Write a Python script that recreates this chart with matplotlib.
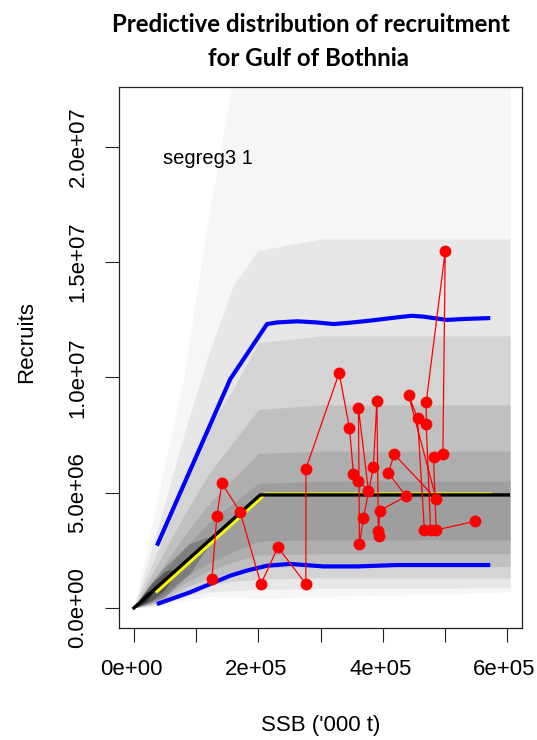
import matplotlib
matplotlib.use("Agg")
import matplotlib.pyplot as plt
from matplotlib.transforms import ScaledTranslation

plt.rcParams['font.family'] = ['Liberation Sans', 'DejaVu Sans']

# observed stock-recruit pairs, in time order (SSB in '000 t, recruits in millions)
obs_ssb = [125.4, 133.4, 141.5, 170.9, 204.2, 231.5, 276.5, 276.5, 330.0, 346.6,
           353.0, 361.0, 377.0, 361.0, 362.7, 369.0, 385.0, 390.7, 393.0, 393.5,
           395.0, 437.8, 409.0, 418.5, 486.0, 441.5, 456.0, 467.0, 477.0, 470.0,
           470.0, 500.5, 496.8, 481.7, 486.0, 548.7]
obs_rec = [1.26, 4.00, 5.40, 4.15, 1.04, 2.63, 1.04, 6.03, 10.19, 7.79,
           5.81, 5.52, 5.09, 8.67, 2.78, 3.89, 6.10, 8.99, 3.35, 3.12,
           4.22, 4.84, 5.85, 6.66, 4.73, 9.24, 8.22, 3.40, 3.36, 7.98,
           8.92, 15.46, 6.68, 6.53, 3.38, 3.76]

# fitted segmented regression (black) and predictive median (yellow)
fit_ssb = [0, 203, 602]
fit_rec = [0, 4.90, 4.90]
med_ssb = [37, 211, 573]
med_rec = [0.72, 4.94, 4.94]

# predictive 5% / 95% lines (blue)
upper_ssb = [37, 155, 214, 230, 262, 294, 321, 348, 380, 423, 447, 466, 503, 530, 573]
upper_rec = [2.70, 9.93, 12.31, 12.38, 12.43, 12.38, 12.31, 12.37, 12.46, 12.60,
             12.67, 12.63, 12.49, 12.53, 12.57]
lower_ssb = [37, 90.5, 122.7, 155, 181.7, 214, 251, 305, 358.5, 423, 466, 573]
lower_rec = [0.17, 0.68, 1.04, 1.40, 1.62, 1.83, 1.91, 1.80, 1.80, 1.86, 1.86, 1.86]

# predictive cloud: iso-shade envelopes per SSB column (outer -> inner)
cloud_ssb = [0, 20, 40, 80, 120, 160, 200, 300, 400, 500, 605]
shade1_lo = [0, 0.03, 0.08, 0.30, 0.50, 0.50, 0.40, 0.50, 0.55, 0.60, 0.70]
shade1_hi = [0, 2.5, 5.0, 10.0, 17.0, 23.0, 23.0, 23.0, 23.0, 23.0, 23.0]
shade2_lo = [0, 0.05, 0.12, 0.45, 0.70, 0.75, 0.80, 0.85, 0.85, 0.85, 0.90]
shade2_hi = [0, 1.8, 3.6, 7.5, 11.0, 14.0, 15.5, 16.0, 16.0, 16.0, 16.0]
shade3_lo = [0, 0.08, 0.18, 0.65, 1.00, 1.15, 1.25, 1.30, 1.30, 1.30, 1.30]
shade3_hi = [0, 1.3, 2.6, 5.3, 7.8, 9.5, 11.5, 11.8, 11.8, 11.8, 11.8]
shade4_lo = [0, 0.12, 0.25, 0.85, 1.30, 1.55, 1.75, 1.80, 1.80, 1.80, 1.80]
shade4_hi = [0, 1.0, 2.0, 4.0, 5.8, 7.2, 8.6, 8.8, 8.8, 8.8, 8.8]
shade5_lo = [0, 0.16, 0.33, 1.05, 1.60, 2.00, 2.30, 2.35, 2.35, 2.35, 2.35]
shade5_hi = [0, 0.8, 1.55, 3.1, 4.5, 5.6, 6.7, 6.8, 6.8, 6.8, 6.8]
shade6_lo = [0, 0.22, 0.45, 1.30, 1.95, 2.45, 2.90, 2.95, 2.95, 2.95, 2.95]
shade6_hi = [0, 0.65, 1.25, 2.55, 3.7, 4.55, 5.40, 5.5, 5.5, 5.5, 5.5]

# dense wedge near the origin
core_ssb = [[0, 25, 50, 90, 130], [0, 15, 30, 50, 70], [0, 10, 20, 35]]
core_lo = [[0, 0.20, 0.50, 1.50, 3.10], [0, 0.15, 0.35, 0.80, 1.68], [0, 0.12, 0.30, 0.83]]
core_hi = [[0, 1.00, 1.80, 2.80, 3.18], [0, 0.60, 1.10, 1.60, 1.72], [0, 0.38, 0.68, 0.86]]

yticks = [0, 5e6, 10e6, 15e6, 20e6]
ylabels = ['0.0e+00', '5.0e+06', '1.0e+07', '1.5e+07', '2.0e+07']
xticks = [0, 1e5, 2e5, 3e5, 4e5, 5e5, 6e5]
xlabels = ['0e+00', '', '2e+05', '', '4e+05', '', '6e+05']

W, H = 537, 740
fig = plt.figure(figsize=(W / 100, H / 100), dpi=100)
ax = fig.add_axes([119 / W, 1 - 628 / H, 403 / W, 541 / H])

k = 1e3
M = 1e6
xs = [v * k for v in cloud_ssb]
shades = [(shade1_lo, shade1_hi, 0.035), (shade2_lo, shade2_hi, 0.06),
          (shade3_lo, shade3_hi, 0.08), (shade4_lo, shade4_hi, 0.09),
          (shade5_lo, shade5_hi, 0.09), (shade6_lo, shade6_hi, 0.09)]
for lo, hi, a in shades:
    ax.fill_between(xs, [v * M for v in lo], [v * M for v in hi],
                    color='black', alpha=a, lw=0)
for s, lo, hi, a in zip(core_ssb, core_lo, core_hi, [0.2, 0.3, 0.5]):
    ax.fill_between([v * k for v in s], [v * M for v in lo], [v * M for v in hi],
                    color='black', alpha=a, lw=0)

ax.plot([v * k for v in upper_ssb], [v * M for v in upper_rec], color='#0000FF', lw=3.0,
        solid_capstyle='butt')
ax.plot([v * k for v in lower_ssb], [v * M for v in lower_rec], color='#0000FF', lw=3.0,
        solid_capstyle='butt')
ax.plot([v * k for v in med_ssb], [v * M for v in med_rec], color='#FFFF00', lw=2.4)
ax.plot([v * k for v in fit_ssb], [v * M for v in fit_rec], color='black', lw=2.4)
ax.plot([v * k for v in obs_ssb], [v * M for v in obs_rec], color='#FF0000', lw=0.9,
        marker='o', ms=7.5, mfc='#FF0000', mec='#FF0000')

ax.text(118.6 * k, 19.48 * M, 'segreg3 1', ha='center', va='center', fontsize=14.5)

ax.set_xlim(-24000, 624000)
ax.set_ylim(-0.87e6, 22.59e6)
ax.set_xticks(xticks)
ax.set_xticklabels(xlabels)
ax.set_yticks(yticks)
ax.set_yticklabels(ylabels, rotation=90, va='center')
ax.tick_params(direction='out', length=10, width=0.8, labelsize=15.9, color='#222222')
ax.tick_params(axis='x', pad=12)
ax.tick_params(axis='y', pad=12)
shift = ScaledTranslation(-2.5 / 100, 0, fig.dpi_scale_trans)
for lab in ax.get_xticklabels():
    lab.set_transform(lab.get_transform() + shift)
for sp in ax.spines.values():
    sp.set_linewidth(0.9)
    sp.set_color('#222222')

fig.text(320.5 / W, 1 - 725 / H, "SSB ('000 t)", ha='center', va='center', fontsize=16.0)
fig.text(27 / W, 1 - 342 / H, 'Recruits', ha='center', va='center', rotation=90,
         fontsize=16.0)

fig.text(311 / W, 1 - 24 / H, 'Predictive distribution of recruitment', ha='center',
         va='center', fontsize=17.3, fontweight='bold', family=['Lato', 'DejaVu Sans'])
fig.text(309 / W, 1 - 58 / H, 'for Gulf of Bothnia', ha='center',
         va='center', fontsize=17.3, fontweight='bold', family=['Lato', 'DejaVu Sans'])

fig.savefig('out.png', dpi=100)
